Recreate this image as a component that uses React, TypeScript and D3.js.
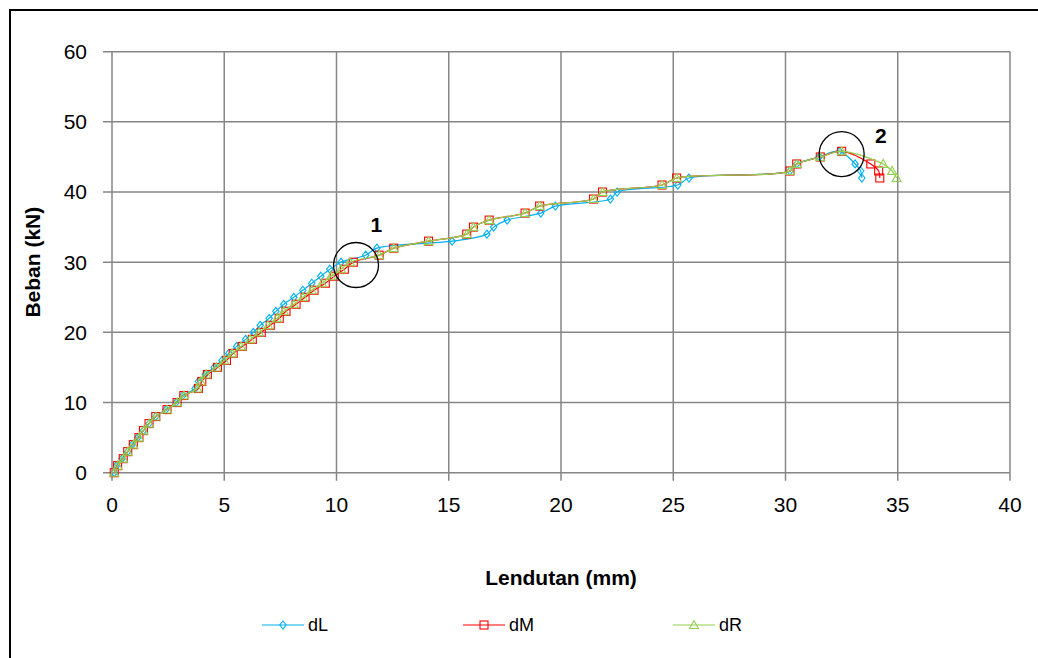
import React from "react";
import * as d3 from "d3";

// Load steps (kN), shared by the three dial gauges
const beban = [
  0, 1, 2, 3, 4, 5, 6, 7, 8, 9,
  10, 11, 12, 13, 14, 15, 16, 17, 18, 19,
  20, 21, 22, 23, 24, 25, 26, 27, 28, 29,
  30, 31, 32, 33, 34, 35, 36, 37, 38, 39,
  40, 41, 42, 43, 44, 45,
  45.8, 44, 43, 42,
];

// Deflection (mm) at the left gauge
const dL = [
  0.1, 0.2, 0.45, 0.7, 0.9, 1.15, 1.4, 1.65, 1.95, 2.4,
  2.85, 3.15, 3.7, 3.85, 4.15, 4.55, 4.9, 5.2, 5.55, 5.95,
  6.3, 6.6, 7.0, 7.3, 7.65, 8.1, 8.5, 8.9, 9.3, 9.7,
  10.2, 11.3, 11.8, 15.15, 16.7, 17.0, 17.6, 19.1, 19.75, 22.2,
  22.5, 25.2, 25.7, 30.2, 30.5, 31.5,
  32.4, 33.1, 33.35, 33.4,
];

// Deflection (mm) at midspan
const dM = [
  0.1, 0.25, 0.5, 0.7, 0.95, 1.2, 1.4, 1.65, 1.95, 2.45,
  2.9, 3.2, 3.85, 4.0, 4.25, 4.7, 5.1, 5.4, 5.8, 6.25,
  6.65, 7.05, 7.45, 7.75, 8.2, 8.6, 9.0, 9.5, 9.9, 10.35,
  10.75, 11.9, 12.55, 14.1, 15.8, 16.1, 16.8, 18.4, 19.05, 21.45,
  21.85, 24.5, 25.15, 30.2, 30.5, 31.55,
  32.5, 33.8, 34.15, 34.2,
];

// Deflection (mm) at the right gauge
const dR = [
  0.1, 0.25, 0.5, 0.7, 0.95, 1.2, 1.4, 1.65, 1.95, 2.45,
  2.9, 3.2, 3.8, 3.95, 4.2, 4.65, 5.0, 5.35, 5.75, 6.15,
  6.55, 6.95, 7.35, 7.65, 8.1, 8.5, 8.9, 9.35, 9.75, 10.2,
  10.6, 11.9, 12.55, 14.1, 15.8, 16.1, 16.8, 18.4, 19.05, 21.45,
  21.85, 24.5, 25.15, 30.2, 30.5, 31.55,
  32.5, 34.35, 34.75, 34.95,
];

const xTicks = [0, 5, 10, 15, 20, 25, 30, 35, 40];
const yTicks = [0, 10, 20, 30, 40, 50, 60];

// Marked stages on the curve: first cracking (1) and ultimate load (2)
const stageLabels = ["1", "2"];
const stageCenters = [
  [10.87, 29.6],
  [32.5, 45.4],
];
const stageLabelPos = [
  [11.78, 35.3],
  [34.25, 48.0],
];

const seriesNames = ["dL", "dM", "dR"];
const seriesValues = [dL, dM, dR];
const seriesColors = ["#00B0F0", "#FF0000", "#92D050"];
const seriesMarkers = ["diamond", "square", "triangle"];

const W = 1038;
const H = 658;
const FONT = "'Liberation Sans', Arial, sans-serif";

function Marker({ kind, x, y, color }: { kind: string; x: number; y: number; color: string }) {
  if (kind === "diamond") {
    return (
      <path
        d={`M${x},${y - 4}L${x + 3.2},${y}L${x},${y + 4}L${x - 3.2},${y}Z`}
        fill="none"
        stroke={color}
        strokeWidth={1.1}
      />
    );
  }
  if (kind === "square") {
    return <rect x={x - 4} y={y - 4} width={8} height={8} fill="none" stroke={color} strokeWidth={1.1} />;
  }
  return (
    <path
      d={`M${x},${y - 4.5}L${x + 4.5},${y + 3.5}L${x - 4.5},${y + 3.5}Z`}
      fill="none"
      stroke={color}
      strokeWidth={1.1}
    />
  );
}

export default function App() {
  const x = d3.scaleLinear().domain([0, 40]).range([112, 1010]);
  const y = d3.scaleLinear().domain([0, 60]).range([472.7, 51.7]);

  const line = d3
    .line<[number, number]>()
    .x((d) => x(d[0]))
    .y((d) => y(d[1]))
    .curve(d3.curveCatmullRom.alpha(0.5));

  const gridColor = "#868686";
  const legendX = [262, 463, 673];
  const legendY = 625;

  return (
    <div style={{ position: "fixed", left: 0, top: 0 }}>
      <svg width={W} height={H} style={{ display: "block", fontFamily: FONT }}>
        <rect x={0} y={0} width={W} height={H} fill="#fff" />
        <rect x={10} y={10} width={W + 10} height={H + 10} fill="none" stroke="#000" strokeWidth={2} />

        {/* grid and ticks */}
        {yTicks.map((t) => (
          <line key={"gy" + t} x1={103} x2={x(40)} y1={y(t)} y2={y(t)} stroke={gridColor} strokeWidth={1.5} />
        ))}
        {xTicks.map((t) => (
          <line key={"gx" + t} x1={x(t)} x2={x(t)} y1={y(60)} y2={y(0) + 8} stroke={gridColor} strokeWidth={1.5} />
        ))}

        {yTicks.map((t) => (
          <text key={"ly" + t} x={87} y={y(t)} dy="0.35em" textAnchor="end" fontSize={21} fill="#000">
            {t}
          </text>
        ))}
        {xTicks.map((t) => (
          <text key={"lx" + t} x={x(t)} y={505} dy="0.35em" textAnchor="middle" fontSize={21} fill="#000">
            {t}
          </text>
        ))}

        <text
          transform={`translate(33,${(y(0) + y(60)) / 2}) rotate(-90)`}
          textAnchor="middle"
          dy="0.35em"
          fontSize={21}
          fontWeight="bold"
        >
          Beban (kN)
        </text>
        <text x={561} y={578} textAnchor="middle" dy="0.35em" fontSize={21} fontWeight="bold">
          Lendutan (mm)
        </text>

        {/* series */}
        {seriesValues.map((vals, i) => {
          const pts: [number, number][] = vals.map((v, j) => [v, beban[j]]);
          return (
            <g key={seriesNames[i]}>
              <path d={line(pts) || ""} fill="none" stroke={seriesColors[i]} strokeWidth={1.2} />
              {pts.map((p, j) => (
                <Marker key={j} kind={seriesMarkers[i]} x={x(p[0])} y={y(p[1])} color={seriesColors[i]} />
              ))}
            </g>
          );
        })}

        {/* stage annotations */}
        {stageCenters.map((c, i) => (
          <g key={"st" + i}>
            <circle cx={x(c[0])} cy={y(c[1])} r={22.5} fill="none" stroke="#000" strokeWidth={1.3} />
            <text
              x={x(stageLabelPos[i][0])}
              y={y(stageLabelPos[i][1])}
              textAnchor="middle"
              dy="0.35em"
              fontSize={21}
              fontWeight="bold"
            >
              {stageLabels[i]}
            </text>
          </g>
        ))}

        {/* legend */}
        {seriesNames.map((n, i) => (
          <g key={"lg" + n}>
            <line x1={legendX[i]} x2={legendX[i] + 42} y1={legendY} y2={legendY} stroke={seriesColors[i]} strokeWidth={1.2} />
            <Marker kind={seriesMarkers[i]} x={legendX[i] + 21} y={legendY} color={seriesColors[i]} />
            <text x={legendX[i] + 46} y={legendY} dy="0.35em" fontSize={18} fill="#000">
              {n}
            </text>
          </g>
        ))}
      </svg>
    </div>
  );
}
